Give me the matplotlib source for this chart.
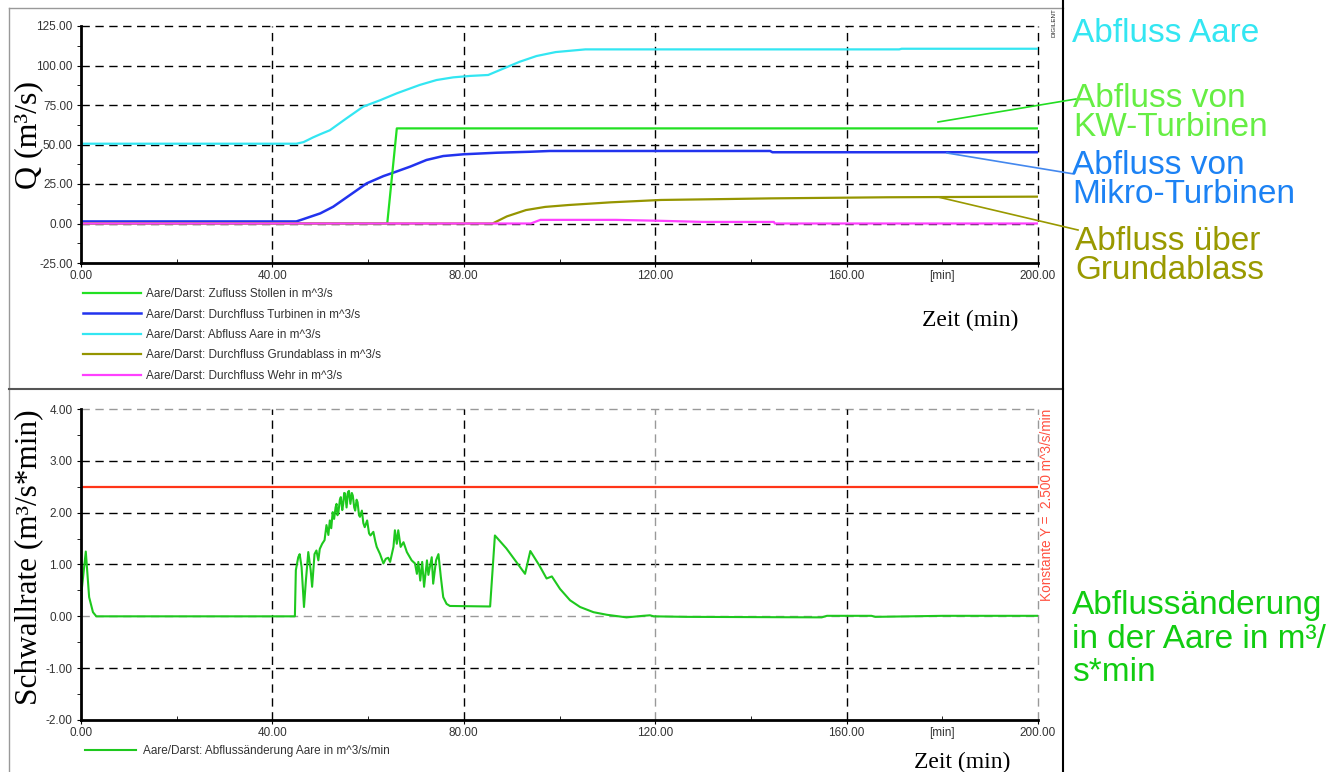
import numpy as np
import matplotlib
matplotlib.use('Agg')
import matplotlib.pyplot as plt
from matplotlib.lines import Line2D

# --- data (time in min) ---
# upper chart: Q in m^3/s
aare_t = [0, 45, 46.5, 48.5, 50, 52, 55.5, 59, 62.5, 66, 70.8, 74.3, 77.8, 81.3, 85.1,
          87.6, 91.7, 95.2, 99.2, 105.4, 171, 171.5, 200]
aare_q = [50.5, 50.5, 51.5, 54.5, 56.5, 59, 66.6, 74, 78, 82.4, 87.7, 90.8, 92.5, 93.4, 94,
          97.2, 102.4, 106, 108.5, 110.2, 110.2, 110.6, 110.6]

stollen_t = [0, 64, 66, 200]
stollen_q = [0, 0, 60.2, 60.2]

turb_t = [0, 45, 46.4, 50, 52.7, 56.2, 59.7, 63.2, 65.3, 68.8, 72.2, 75.7, 79.9, 86.9,
          93.8, 98, 144, 144.5, 200]
turb_q = [1.3, 1.3, 2.7, 6.4, 10.6, 18, 25.4, 30, 32.2, 36, 40.2, 42.7, 43.8, 44.8,
          45.4, 45.9, 45.9, 45.1, 45.1]

grund_t = [0, 86, 89, 93, 97, 101.9, 110.7, 121.2, 135.3, 144.1, 168.6, 200]
grund_q = [0, 0, 4.5, 8.5, 10.5, 11.7, 13.4, 14.9, 15.5, 15.9, 16.6, 17.0]

wehr_t = [0, 94, 96, 101.4, 111.8, 121.2, 130, 144.8, 145, 200]
wehr_q = [0, 0, 2.3, 2.3, 2.3, 1.7, 1.0, 1.0, 0, 0]

# lower chart: Schwallrate in m^3/s*min
rate_t = [0, 0.2, 1.0, 1.7, 2.5, 3.2,
          44.7, 44.9, 45.4, 45.7, 46.1, 46.6, 47.0, 47.5, 48.0, 48.3,
          48.8, 49.2, 49.6, 49.9, 50.4, 50.9, 51.3, 51.7, 52.0, 52.3,
          52.6, 52.9, 53.2, 53.4, 53.6, 53.8, 54.1, 54.3, 54.6, 54.8,
          55.0, 55.2, 55.5, 55.8, 56.0, 56.3, 56.6, 56.8, 57.1, 57.3,
          57.6, 57.8, 58.1, 58.3, 58.7, 59.0, 59.3, 59.8, 60.2, 60.5,
          61.1, 61.5, 61.8, 62.5, 63.2,
          63.7, 64.2, 64.6, 65.3, 65.6, 66.0, 66.3, 66.8, 67.4, 68.1,
          69.1, 69.8, 70.2, 70.5, 70.9, 71.3, 71.7, 72.3, 72.6, 73.3,
          73.6, 74.2, 74.7, 75.2, 75.7, 76.4, 77.1,
          85.5, 86.5, 88.9, 92.8, 93.9, 95.8, 97.3, 98.4, 100.1, 102.2,
          104.3, 107.1, 109.9, 114.0, 117.5, 118.9, 119.7, 126.4,
          154.8, 155.9, 165.2, 166.0, 180.2, 200]
rate_v = [0, 0.55, 1.25, 0.37, 0.08, 0,
          0, 0.89, 1.14, 1.2, 0.95, 0.18, 0.69, 1.24, 0.89, 0.57,
          1.2, 1.27, 1.08, 1.3, 1.4, 1.47, 1.76, 1.57, 1.85, 1.7,
          2.01, 1.88, 2.1, 2.17, 1.95, 2.01, 2.25, 2.30, 2.05, 2.17,
          2.38, 2.37, 2.10, 2.4, 2.42, 2.17, 2.38, 2.33, 2.1, 2.04,
          2.25, 2.2, 1.95, 1.92, 2.04, 1.8, 1.72, 1.85, 1.6, 1.56,
          1.63, 1.45, 1.34, 1.2, 1.02,
          1.11, 1.13, 1.05, 1.34, 1.66, 1.4, 1.66, 1.34, 1.43, 1.24,
          1.08, 1.02, 0.82, 1.05, 0.69, 1.05, 0.57, 1.08, 0.8, 1.14,
          0.63, 1.08, 1.2, 0.76, 0.37, 0.24, 0.2,
          0.19, 1.56, 1.31, 0.82, 1.26, 0.98, 0.73, 0.77, 0.53, 0.31,
          0.18, 0.08, 0.03, -0.02, 0.01, 0.02, 0.0, -0.01,
          -0.02, 0.01, 0.01, -0.01, 0.01, 0.01]
grenzwert = 2.5

x_major = [0, 40, 80, 120, 160, 200]
x_minor = [20, 60, 100, 140, 180]
x_minor_labels = ['', '', '', '', '[min]']
q_ticks = [-25, 0, 25, 50, 75, 100, 125]
r_ticks = [-2, -1, 0, 1, 2, 3, 4]

# colors
c_stollen = '#22E022'
c_turb = '#2233EE'
c_aare = '#33E6F2'
c_grund = '#959500'
c_wehr = '#FF40FF'
c_rate = '#1EC81E'
c_red = '#FF3518'

small = ['Liberation Sans Narrow', 'Liberation Sans', 'DejaVu Sans']
serif = ['Liberation Serif', 'DejaVu Serif']
sans = ['Liberation Sans', 'DejaVu Sans']

W, H = 1330, 772
fig = plt.figure(figsize=(W / 100, H / 100), dpi=100)


def fx(px):
    return px / W


def fy(py):
    return 1 - py / H


def style_axes(ax, yticks, gray_h=(), gray_v=()):
    ax.set_xlim(0, 200)
    ax.set_ylim(yticks[0], yticks[-1])
    for s in ['top', 'right']:
        ax.spines[s].set_visible(False)
    for s in ['left', 'bottom']:
        ax.spines[s].set_linewidth(2)
        ax.spines[s].set_zorder(5)
    ax.set_xticks(x_major)
    ax.set_xticklabels(['%.2f' % v for v in x_major])
    ax.set_xticks(x_minor, minor=True)
    ax.set_xticklabels(x_minor_labels, minor=True)
    ax.set_yticks(yticks)
    ax.set_yticklabels(['%.2f' % v for v in yticks])
    step = yticks[1] - yticks[0]
    ax.set_yticks([v + step / 2 for v in yticks[:-1]], minor=True)
    ax.tick_params(axis='x', which='major', direction='out', length=3, pad=2, labelsize=8.5,
                   labelcolor='#333333')
    ax.tick_params(axis='x', which='minor', direction='in', length=3, pad=5, labelsize=8.5,
                   labelcolor='#333333')
    ax.tick_params(axis='y', which='both', direction='out', length=3, pad=3, labelsize=8.5,
                   labelcolor='#333333')
    for lab in ax.get_xticklabels(which='both') + ax.get_yticklabels():
        lab.set_family(small)
    # dashed grid
    for v in yticks[1:]:
        c = '#999999' if v in gray_h else 'black'
        ax.axhline(v, color=c, lw=1, ls=(0, (6, 4)), zorder=1, clip_on=False)
    for v in x_major[1:]:
        c = '#999999' if v in gray_v else 'black'
        ax.axvline(v, color=c, lw=1, ls=(0, (6, 4)), zorder=1, clip_on=False)


# --- upper chart ---
ax1 = fig.add_axes([fx(81), fy(263), fx(1038) - fx(81), fy(26) - fy(263)])
style_axes(ax1, q_ticks)
ax1.plot(aare_t, aare_q, color=c_aare, lw=1.6, zorder=3, label='Aare/Darst: Abfluss Aare in m^3/s')
ax1.plot(turb_t, turb_q, color=c_turb, lw=1.8, zorder=3, label='Aare/Darst: Durchfluss Turbinen in m^3/s')
ax1.plot(stollen_t, stollen_q, color=c_stollen, lw=1.6, zorder=3, label='Aare/Darst: Zufluss Stollen in m^3/s')
ax1.plot(grund_t, grund_q, color=c_grund, lw=1.6, zorder=3, label='Aare/Darst: Durchfluss Grundablass in m^3/s')
ax1.plot(wehr_t, wehr_q, color=c_wehr, lw=1.6, zorder=4, label='Aare/Darst: Durchfluss Wehr in m^3/s')

h, l = ax1.get_legend_handles_labels()
order = [2, 1, 0, 3, 4]
fig.legend([h[i] for i in order], [l[i] for i in order], loc='upper left',
           bbox_to_anchor=(fx(83), fy(288)), frameon=False, borderpad=0, borderaxespad=0,
           handlelength=4.9, handletextpad=0.4, labelspacing=0.72,
           prop={'family': small, 'size': 8.5}, labelcolor='#333333')

# --- lower chart ---
ax2 = fig.add_axes([fx(81), fy(720), fx(1038) - fx(81), fy(409) - fy(720)])
style_axes(ax2, r_ticks, gray_h=(4, 0), gray_v=(120, 200))
ax2.axhline(grenzwert, color=c_red, lw=1.6, zorder=3)
ax2.plot(rate_t, rate_v, color=c_rate, lw=1.5, zorder=4,
         label='Aare/Darst: Abflussänderung Aare in m^3/s/min')
fig.legend(*ax2.get_legend_handles_labels(), loc='upper left',
           bbox_to_anchor=(fx(85), fy(745)), frameon=False, borderpad=0, borderaxespad=0,
           handlelength=4.3, handletextpad=0.6, prop={'family': small, 'size': 8.5},
           labelcolor='#333333')
fig.text(fx(1047), fy(409), 'Konstante Y =  2.500 m^3/s/min', color='#FF5040', rotation=90,
         ha='center', va='top', fontsize=9.8, family=small)

# axis titles
fig.text(fx(29), fy(135), 'Q (m³/s)', rotation=90, ha='center', va='center',
         fontsize=23, family=serif)
fig.text(fx(29), fy(557), 'Schwallrate (m³/s*min)', rotation=90, ha='center', va='center',
         fontsize=22.5, family=serif)
fig.text(fx(970), fy(320), 'Zeit (min)', ha='center', va='center', fontsize=17, family=serif)
fig.text(fx(962), fy(762), 'Zeit (min)', ha='center', va='center', fontsize=17, family=serif)
fig.text(fx(1054), fy(8), 'DIGILENT', rotation=90, ha='center', va='top', fontsize=4.5,
         family=small, color='#222222')

# panel frame
fig.add_artist(Line2D([fx(9), fx(1063)], [fy(8), fy(8)], color='#999999', lw=1))
fig.add_artist(Line2D([fx(9), fx(9)], [fy(8), fy(772)], color='#999999', lw=1))
fig.add_artist(Line2D([fx(9), fx(1063)], [fy(389), fy(389)], color='#555555', lw=1.5))
fig.add_artist(Line2D([fx(1063), fx(1063)], [fy(0), fy(772)], color='black', lw=1.5))

# right-hand annotations (text, left x, block centre y, line spacing, colour)
notes = [
    ('Abfluss Aare', 1072, 34, 1.0, c_aare),
    ('Abfluss von\nKW-Turbinen', 1073, 113, 0.95, '#66EE44'),
    ('Abfluss von\nMikro-Turbinen', 1072, 180, 0.95, '#1C82F4'),
    ('Abfluss über\nGrundablass', 1075, 256, 0.91, '#999900'),
    ('Abflussänderung\nin der Aare in m³/\ns*min', 1072, 639, 1.11, '#11CC11'),
]
for txt, px, py, lsp, col in notes:
    fig.text(fx(px), fy(py), txt, ha='left', va='center', fontsize=24, family=sans,
             color=col, linespacing=lsp)

# leader lines
fig.add_artist(Line2D([fx(938), fx(1076)], [fy(122), fy(99)], color='#22DD22', lw=1.2))
fig.add_artist(Line2D([fx(947), fx(1074)], [fy(153), fy(174)], color='#4488EE', lw=1.2))
fig.add_artist(Line2D([fx(938), fx(1078)], [fy(197), fy(230)], color='#999900', lw=1.2))

fig.savefig('out.png', dpi=100)
